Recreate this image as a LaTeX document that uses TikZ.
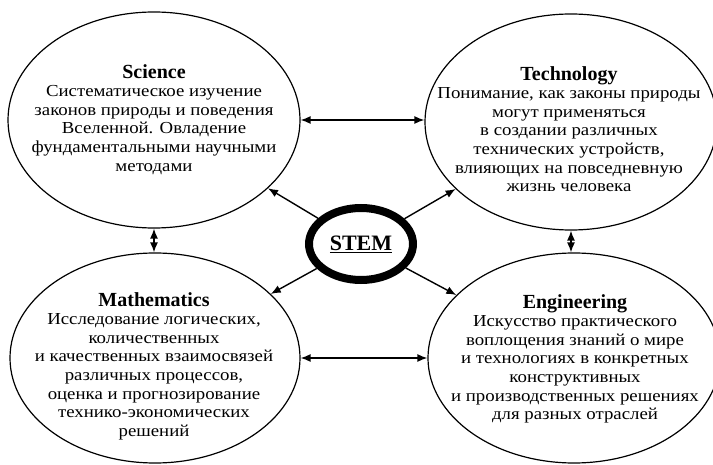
\documentclass[tikz,border=0pt]{standalone}
\usepackage{fontspec}
\setmainfont{Liberation Serif}
\newfontfamily\bodyfont[FakeStretch=1.12]{Liberation Serif}
\usetikzlibrary{shapes.geometric,arrows.meta}

\tikzset{
  field/.style={ellipse,draw,line width=1.2pt,inner sep=0pt},
  fieldtext/.style={align=center,anchor=north,inner sep=0pt,
    font=\bodyfont\fontsize{16.8}{18.6}\selectfont},
  link/.style={{Latex[length=10pt,width=8pt]}-{Latex[length=10pt,width=8pt]},line width=1.4pt},
  spoke/.style={-{Latex[length=10pt,width=8pt]},line width=1.4pt},
}
\newcommand{\fieldname}[1]{{\fontsize{20}{19}\selectfont\rmfamily\bfseries #1}}

\begin{document}
\begin{tikzpicture}[x=1pt,y=-1pt]
  \useasboundingbox (0,0) rectangle (713,465);

  % the four fields
  \node[field,minimum width=292pt,minimum height=216pt] (sci) at (154,120) {};
  \node[field,minimum width=292pt,minimum height=216pt] (tech) at (571,122) {};
  \node[field,minimum width=290pt,minimum height=210pt] (math) at (155,358) {};
  \node[field,minimum width=292pt,minimum height=210pt] (eng) at (574,358) {};

  \node[fieldtext] (scitext) at (154,64) {\fieldname{Science}\\
    Систематическое изучение\\
    законов природы и поведения\\
    Вселенной. Овладение\\
    фундаментальными научными\\
    методами};
  \node[fieldtext] (techtext) at (569,66) {\fieldname{Technology}\\
    Понимание, как законы природы\\
    могут применяться\\
    в создании различных\\
    технических устройств,\\
    влияющих на повседневную\\
    жизнь человека};
  \node[fieldtext] (mathtext) at (154,292) {\fieldname{Mathematics}\\
    Исследование логических,\\
    количественных\\
    и качественных взаимосвязей\\
    различных процессов,\\
    оценка и прогнозирование\\
    технико-экономических\\
    решений};
  \node[fieldtext] (engtext) at (575,294) {\fieldname{Engineering}\\
    Искусство практического\\
    воплощения знаний о мире\\
    и технологиях в конкретных\\
    конструктивных\\
    и производственных решениях\\
    для разных отраслей};

  % centre
  \node[ellipse,draw,line width=8pt,minimum width=104pt,minimum height=72pt,inner sep=0pt,
    font=\fontsize{22}{22}\selectfont\bfseries] (stem) at (361,244) {\underline{STEM}};

  \draw[link] (sci.east) -- (sci.east -| tech.west);
  \draw[link] (math.east) -- (math.east -| eng.west);
  \draw[link] (sci.south) -- (sci.south |- math.north);
  \draw[link] (tech.south) -- (tech.south |- eng.north);

  \foreach \f in {sci,tech,math,eng}
    \draw[spoke] (stem) -- (\f);
\end{tikzpicture}
\end{document}
